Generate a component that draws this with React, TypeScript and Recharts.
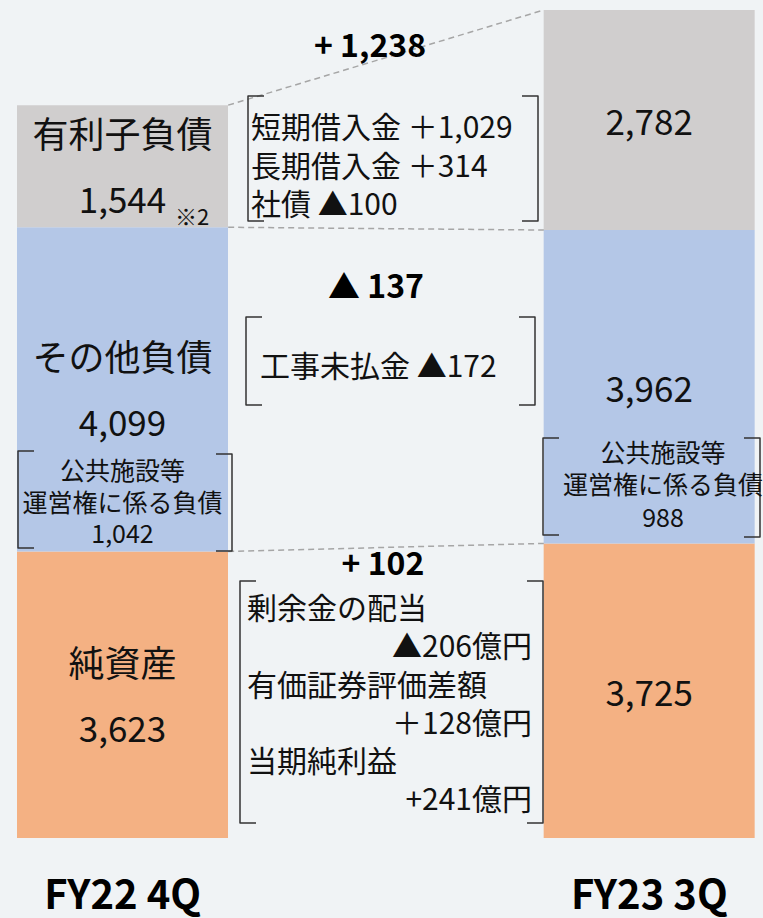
import { BarChart, Bar, XAxis, YAxis, LabelList } from 'recharts'

const periods = ['FY22 4Q', '', 'FY23 3Q']
const netAssets = [3623, 0, 3725]
const otherLiabilities = [4099, 0, 3962]
const interestDebt = [1544, 0, 2782]
const concessionDebt = [1042, 988]
const concessionTitle = ['公共施設等', '運営権に係る負債']

const debtChange = '+ 1,238'
const debtDetails = ['短期借入金 ＋1,029', '長期借入金 ＋314', '社債 ▲100']
const otherChange = '▲ 137'
const otherDetails = ['工事未払金 ▲172']
const equityChange = '+ 102'
const equityDetails = [
  ['剰余金の配当', '▲206億円'],
  ['有価証券評価差額', '＋128億円'],
  ['当期純利益', '+241億円'],
]

const data = periods.map((p, i) => ({
  period: p,
  netAssets: netAssets[i],
  otherLiabilities: otherLiabilities[i],
  interestDebt: interestDebt[i],
}))

const W = 763
const H = 918
const CHART_LEFT = -9
const CHART_W = 790
const TOP = 10
const AXIS_H = 80
const BOTTOM = H - AXIS_H
const BAR = 211
const FONT = "'Noto Sans CJK JP', sans-serif"

const BG = '#f0f3f5'
const GRAY = '#d0cece'
const BLUE = '#b4c7e7'
const ORANGE = '#f4b183'

// mirrors the chart's y scale for the overlay notes
const maxTotal = Math.max(...periods.map((_, i) => netAssets[i] + otherLiabilities[i] + interestDebt[i]))
const yOf = (v: number) => BOTTOM - (v / maxTotal) * (BOTTOM - TOP)
const band = CHART_W / periods.length
const leftBarRight = CHART_LEFT + band * 0.5 + BAR / 2
const rightBarLeft = CHART_LEFT + band * 2.5 - BAR / 2

const segLabel = (name: string) => (props: any) => {
  const { x, y, width, height, value, index } = props
  if (!value) return null
  const cx = Number(x) + Number(width) / 2
  const cy = Number(y) + Number(height) / 2
  const first = index === 0 || (index === undefined && Number(x) < 300)
  const txt = value.toLocaleString('en-US')
  if (first) {
    return (
      <g fontFamily={FONT} fill="#111">
        <text x={cx} y={cy - 18} textAnchor="middle" fontSize={36}>{name}</text>
        <text x={cx} y={cy + 47} textAnchor="middle" fontSize={35}>{txt}</text>
      </g>
    )
  }
  return (
    <text x={cx} y={cy + 15} textAnchor="middle" fontFamily={FONT} fontSize={35} fill="#111">{txt}</text>
  )
}

const PeriodTick = (props: any) => {
  const { x, y, payload } = props
  if (!payload.value) return null
  return (
    <text x={x} y={y} dy={63} textAnchor="middle" fontFamily={FONT} fontSize={40} fontWeight="bold" fill="#000">
      {payload.value}
    </text>
  )
}

function Bracket({ x, y1, y2, dir }: { x: number; y1: number; y2: number; dir: number }) {
  const a = 16 * dir
  return (
    <path d={`M${x + a},${y1} L${x},${y1} L${x},${y2} L${x + a},${y2}`} fill="none" stroke="#333" strokeWidth={1.5} strokeLinejoin="round" />
  )
}

function Notes() {
  const l0 = [0, netAssets[0], netAssets[0] + otherLiabilities[0], netAssets[0] + otherLiabilities[0] + interestDebt[0]]
  const r0 = [0, netAssets[2], netAssets[2] + otherLiabilities[2], netAssets[2] + otherLiabilities[2] + interestDebt[2]]
  return (
    <svg width={W} height={H} style={{ position: 'absolute', left: 0, top: 0, pointerEvents: 'none' }} fontFamily={FONT}>
      {[1, 2, 3].map(k => (
        <line key={k} x1={leftBarRight} y1={yOf(l0[k])} x2={rightBarLeft} y2={yOf(r0[k])}
          stroke="#a6a6a6" strokeWidth={1.5} strokeDasharray="6 4" />
      ))}

      {/* interest-bearing debt change */}
      <text x={370} y={57} textAnchor="middle" fontSize={32} fontWeight="bold" fill="#000">{debtChange}</text>
      <Bracket x={248} y1={96} y2={221} dir={1} />
      <Bracket x={538} y1={96} y2={221} dir={-1} />
      {debtDetails.map((t, i) => (
        <text key={t} x={251} y={138 + i * 38.5} fontSize={30} fill="#111">{t}</text>
      ))}

      {/* other liabilities change */}
      <text x={376} y={298} textAnchor="middle" fontSize={32} fontWeight="bold" fill="#000">{otherChange}</text>
      <Bracket x={246} y1={317} y2={405} dir={1} />
      <Bracket x={535} y1={317} y2={405} dir={-1} />
      {otherDetails.map(t => (
        <text key={t} x={260} y={377} fontSize={30} fill="#111">{t}</text>
      ))}

      {/* net assets change */}
      <text x={383} y={575} textAnchor="middle" fontSize={32} fontWeight="bold" fill="#000">{equityChange}</text>
      <Bracket x={240} y1={581} y2={823} dir={1} />
      <Bracket x={543} y1={581} y2={823} dir={-1} />
      {equityDetails.map(([a, b], i) => (
        <g key={a}>
          <text x={247} y={619 + i * 76.6} fontSize={30} fill="#111">{a}</text>
          <text x={532} y={657 + i * 76.6} textAnchor="end" fontSize={30} fill="#111">{b}</text>
        </g>
      ))}

      {/* ※2 */}
      <text x={175} y={225} fontSize={22} fill="#111">※2</text>

      {/* concession liabilities boxes */}
      <Bracket x={18} y1={451} y2={548} dir={1} />
      <Bracket x={232} y1={454} y2={551} dir={-1} />
      <g fontSize={25} fill="#111" textAnchor="middle">
        <text x={122.5} y={480}>{concessionTitle[0]}</text>
        <text x={122.5} y={512}>{concessionTitle[1]}</text>
        <text x={122.5} y={543}>{concessionDebt[0].toLocaleString('en-US')}</text>
      </g>
      <Bracket x={543} y1={438} y2={535} dir={1} />
      <Bracket x={760} y1={438} y2={537} dir={-1} />
      <g fontSize={25} fill="#111" textAnchor="middle">
        <text x={663} y={462}>{concessionTitle[0]}</text>
        <text x={663} y={494}>{concessionTitle[1]}</text>
        <text x={663} y={527}>{concessionDebt[1].toLocaleString('en-US')}</text>
      </g>
    </svg>
  )
}

export default function App() {
  return (
    <div style={{ position: 'absolute', left: 0, top: 0, width: W, height: H, overflow: 'hidden', background: BG }}>
      <div style={{ position: 'absolute', left: CHART_LEFT, top: 0 }}>
        <BarChart width={CHART_W} height={H} data={data} margin={{ top: TOP, right: 0, bottom: 0, left: 0 }} barCategoryGap={0}>
          <XAxis dataKey="period" axisLine={false} tickLine={false} height={AXIS_H} tick={<PeriodTick />} interval={0} />
          <YAxis hide domain={[0, 'dataMax']} />
          <Bar dataKey="netAssets" stackId="a" fill={ORANGE} barSize={BAR} isAnimationActive={false}>
            <LabelList dataKey="netAssets" content={segLabel('純資産')} />
          </Bar>
          <Bar dataKey="otherLiabilities" stackId="a" fill={BLUE} barSize={BAR} isAnimationActive={false}>
            <LabelList dataKey="otherLiabilities" content={segLabel('その他負債')} />
          </Bar>
          <Bar dataKey="interestDebt" stackId="a" fill={GRAY} barSize={BAR} isAnimationActive={false}>
            <LabelList dataKey="interestDebt" content={segLabel('有利子負債')} />
          </Bar>
        </BarChart>
      </div>
      <Notes />
    </div>
  )
}
